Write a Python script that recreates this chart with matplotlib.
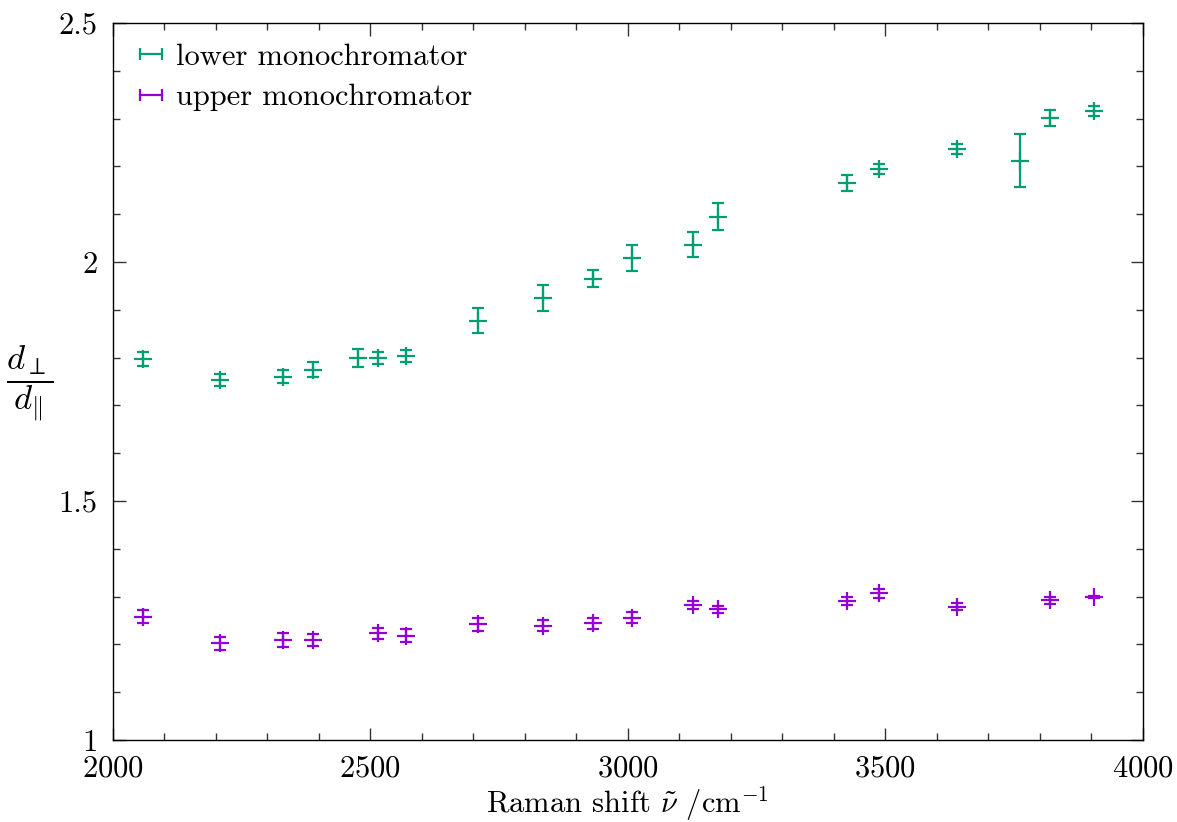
import matplotlib
matplotlib.use("Agg")
import matplotlib.pyplot as plt
from matplotlib.lines import Line2D
from matplotlib.legend_handler import HandlerLine2D
from matplotlib.ticker import MultipleLocator

# lower monochromator (green)
lower_x = [2058, 2208, 2330, 2389, 2475, 2514, 2569, 2709, 2836, 2932,
           3007, 3127, 3174, 3425, 3487, 3639, 3761, 3819, 3906]
lower_y = [1.797, 1.753, 1.760, 1.775, 1.799, 1.799, 1.803, 1.877, 1.925, 1.965,
           2.008, 2.036, 2.095, 2.165, 2.195, 2.236, 2.212, 2.301, 2.316]
lower_err = [0.014, 0.013, 0.014, 0.015, 0.018, 0.012, 0.012, 0.026, 0.027, 0.018,
             0.027, 0.026, 0.029, 0.017, 0.010, 0.010, 0.056, 0.016, 0.010]

# upper monochromator (violet)
upper_x = [2058, 2208, 2330, 2389, 2514, 2569, 2709, 2836, 2932, 3007,
           3127, 3174, 3425, 3487, 3639, 3819, 3906]
upper_y = [1.258, 1.202, 1.209, 1.209, 1.223, 1.218, 1.242, 1.239, 1.244, 1.256,
           1.282, 1.273, 1.291, 1.307, 1.279, 1.292, 1.299]
upper_err = [0.014, 0.013, 0.014, 0.013, 0.012, 0.014, 0.013, 0.012, 0.012, 0.012,
             0.008, 0.007, 0.008, 0.009, 0.007, 0.008, 0.003]

green = "#009E73"
violet = "#9400D3"

plt.rcParams["font.family"] = "cmr10"
plt.rcParams["mathtext.fontset"] = "cm"
plt.rcParams["axes.formatter.use_mathtext"] = True
plt.rcParams["font.size"] = 22

fig = plt.figure(figsize=(11.77, 8.22), dpi=100)
ax = fig.add_axes([0.096, 0.0998, 0.875, 0.8722])

for x, y, e, c in [(lower_x, lower_y, lower_err, green),
                   (upper_x, upper_y, upper_err, violet)]:
    ax.errorbar(x, y, yerr=e, fmt="+", color=c, ecolor=c, elinewidth=1.6,
                capsize=4.3, capthick=1.6, markersize=12.5, mew=1.6)

ax.set_xlim(2000, 4000)
ax.set_ylim(1, 2.5)
ax.xaxis.set_major_locator(MultipleLocator(500))
ax.xaxis.set_minor_locator(MultipleLocator(100))
ax.yaxis.set_minor_locator(MultipleLocator(0.1))
ax.set_yticks([1, 1.5, 2, 2.5])
ax.set_yticklabels(["1", "1.5", "2", "2.5"])
ax.tick_params(which="both", direction="in", top=True, right=True, width=1.0,
               color="#333333", labelsize=22)
ax.tick_params(which="major", length=9)
ax.tick_params(axis="x", which="major", pad=11)
ax.tick_params(axis="y", which="major", pad=11)
ax.tick_params(which="minor", length=5)
for s in ax.spines.values():
    s.set_linewidth(1.0)

ax.set_xlabel(r"Raman shift $\tilde{\nu}$ /cm$^{-1}$", labelpad=1)
ax.set_ylabel(r"$\dfrac{d_{\perp}}{d_{\Vert}}$", rotation=0, fontsize=25,
              va="center", ha="center")
ax.yaxis.set_label_coords(-0.081, 0.498)

handles = [Line2D([], [], color=green, marker="|", markersize=8, mew=1.6, lw=1.6),
           Line2D([], [], color=violet, marker="|", markersize=8, mew=1.6, lw=1.6)]
ax.legend(handles, ["lower monochromator", "upper monochromator"], loc="upper left",
          bbox_to_anchor=(0.008, 0.997), numpoints=2, frameon=False,
          handlelength=0.75, handletextpad=0.45, labelspacing=0.42,
          borderaxespad=0.2, fontsize=22,
          handler_map={Line2D: HandlerLine2D(marker_pad=0)})

fig.savefig("out.png", dpi=100)
